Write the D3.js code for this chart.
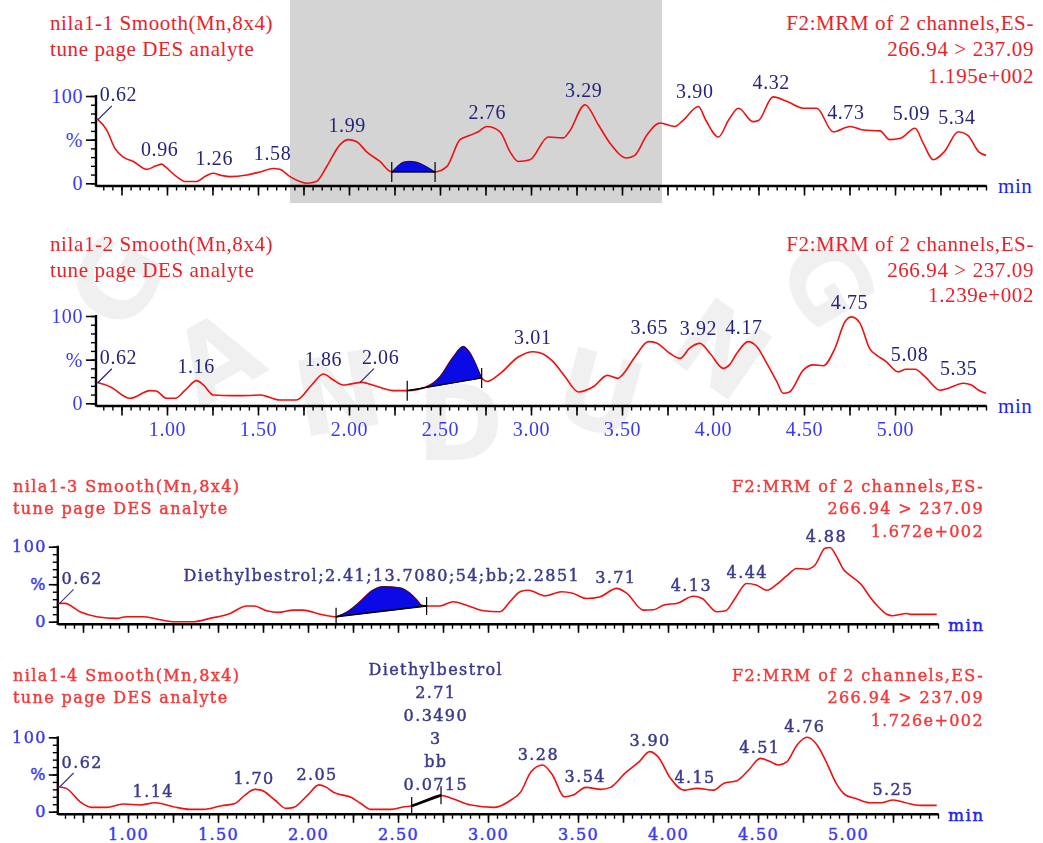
<!DOCTYPE html>
<html><head><meta charset="utf-8">
<style>
body { margin: 0; background: #fff; }
svg { display: block; }
</style></head><body>
<svg width="1043" height="843"></svg>
<script src="https://d3js.org/d3.v7.min.js"></script>
<script>

// ---- data (time in min, intensity in %) ----
var trace1 = [[0.614,74],[0.669,61],[0.714,40],[0.76,30],[0.815,25],[0.888,16],[0.94,20],[0.971,22],[0.99,19],[1.053,7.6],[1.099,2],[1.163,2],[1.21,8],[1.254,11.5],[1.30,9],[1.346,7.6],[1.438,9.5],[1.511,13],[1.584,17],[1.62,16],[1.676,7.6],[1.73,2],[1.768,0],[1.82,2],[1.877,19],[1.95,44],[1.996,50],[2.04,48],[2.097,36],[2.17,25],[2.235,13],[2.30,24],[2.335,25],[2.37,24],[2.473,13],[2.537,19],[2.61,50],[2.665,55],[2.71,59],[2.757,65],[2.83,59],[2.885,36],[2.93,25],[2.995,27],[3.095,53],[3.178,52],[3.21,59],[3.297,90],[3.37,67],[3.434,46],[3.526,29],[3.57,32],[3.636,55],[3.709,69],[3.79,65],[3.837,72.5],[3.92,88],[3.96,72.5],[4.03,53],[4.086,72.5],[4.14,86],[4.22,70.6],[4.25,72],[4.33,99],[4.41,93.5],[4.496,86],[4.57,86],[4.66,59],[4.753,65],[4.826,61],[4.918,60],[4.97,50],[5.03,51.5],[5.11,63],[5.155,46],[5.21,27],[5.27,36],[5.348,59],[5.40,55],[5.46,36],[5.50,32]];
var trace2 = [[0.614,24],[0.687,19],[0.797,5.7],[0.907,14.5],[0.94,14],[0.998,5.7],[1.045,5.7],[1.10,15],[1.163,26],[1.20,21],[1.254,9.5],[1.364,8.8],[1.45,9],[1.511,9.5],[1.62,3.8],[1.71,3.8],[1.795,21],[1.859,33.6],[1.914,26.7],[1.969,21],[2.005,22],[2.07,24],[2.115,21.8],[2.189,17],[2.244,14.5],[2.32,14.5],[2.427,19],[2.5,30.5],[2.573,53],[2.628,65],[2.66,59],[2.729,29],[2.76,25],[2.83,34],[2.93,53],[3.013,59],[3.06,57],[3.12,48],[3.187,30.5],[3.26,13],[3.342,19],[3.42,32],[3.477,28.6],[3.50,32],[3.571,53],[3.645,70.6],[3.69,69],[3.764,57],[3.82,51.5],[3.87,63],[3.929,68.7],[3.984,57],[4.057,40],[4.09,44],[4.13,57],[4.194,70.6],[4.24,65],[4.295,46],[4.35,25],[4.386,11.5],[4.42,13],[4.496,38],[4.55,44],[4.606,43],[4.67,63],[4.725,93.5],[4.762,99],[4.808,91.6],[4.86,63],[4.90,55],[4.95,48],[5.018,36],[5.06,39],[5.11,39],[5.165,30.5],[5.247,15],[5.29,17],[5.375,23],[5.42,21],[5.46,15],[5.50,11.5]];
var trace3 = [[0.613,24.4],[0.65,24.4],[0.733,13.3],[0.826,6.7],[0.937,4.4],[0.99,6.7],[1.085,6.7],[1.159,3.6],[1.25,0],[1.363,0],[1.455,4.4],[1.567,11],[1.659,21],[1.70,21],[1.77,14.7],[1.835,12.4],[1.918,15.5],[1.97,15.5],[2.067,10],[2.156,6.7],[2.233,15.5],[2.289,26.7],[2.354,41],[2.418,46.7],[2.511,45],[2.567,37.8],[2.604,29],[2.63,22],[2.659,21],[2.733,21],[2.807,26.7],[2.881,22],[2.974,14.7],[3.067,13.3],[3.122,26.7],[3.178,40],[3.224,42],[3.317,34.7],[3.409,40],[3.47,38],[3.548,31],[3.62,33],[3.715,44.4],[3.77,38],[3.863,15.5],[3.92,16],[3.974,22],[4.057,25],[4.14,34],[4.19,31],[4.27,13.3],[4.32,14.5],[4.372,31],[4.437,51],[4.49,49],[4.548,42],[4.60,49],[4.659,61],[4.715,71],[4.77,70],[4.817,75.6],[4.872,97.8],[4.9,99],[4.937,86.7],[4.974,70],[5.01,62],[5.076,49],[5.122,33],[5.168,20],[5.215,10],[5.25,8],[5.326,11],[5.35,9.8],[5.493,9.8]];
var trace4 = [[0.613,33.6],[0.66,31],[0.733,13.5],[0.798,5.8],[0.88,5.8],[0.974,10.3],[1.067,9],[1.15,12],[1.252,6.7],[1.344,3.1],[1.42,3.1],[1.52,8],[1.594,11],[1.65,22.4],[1.705,30],[1.74,29],[1.816,15.7],[1.878,4.5],[1.92,5.8],[1.998,22.4],[2.061,36],[2.10,33],[2.146,25.6],[2.239,19.3],[2.294,11],[2.35,3.1],[2.461,3.1],[2.535,6.7],[2.576,7.6],[2.65,15],[2.70,20],[2.739,22],[2.813,16.6],[2.906,9],[3.035,5.8],[3.128,15.7],[3.183,27],[3.239,53.8],[3.303,62.8],[3.359,49],[3.424,20],[3.47,22],[3.544,32.7],[3.628,30],[3.68,32.7],[3.76,51.6],[3.839,67],[3.898,80.7],[3.944,74],[4.014,44.8],[4.088,29],[4.16,31.4],[4.253,29],[4.309,38],[4.383,41.7],[4.448,56],[4.513,71.7],[4.57,67],[4.615,62.8],[4.66,67],[4.717,89.7],[4.773,100],[4.828,89.7],[4.883,65],[4.93,40],[4.986,22.4],[5.04,18],[5.122,12],[5.18,12],[5.252,15.7],[5.32,12],[5.4,8.5],[5.493,8.5]];

// integrated peak limits [start, end]
var peak1 = [2.235, 2.473];
var peak2 = [2.32, 2.729];
var peak3 = [2.156, 2.659];
var peak4 = [2.576, 2.739];

// peak labels
var labels1 = ["0.62","0.96","1.26","1.58","1.99","2.76","3.29","3.90","4.32","4.73","5.09","5.34"];
var labels2 = ["0.62","1.16","1.86","2.06","3.01","3.65","3.92","4.17","4.75","5.08","5.35"];
var labels3 = ["0.62","Diethylbestrol;2.41;13.7080;54;bb;2.2851","3.71","4.13","4.44","4.88"];
var labels4 = ["0.62","1.14","1.70","2.05","3.28","3.54","3.90","4.15","4.51","4.76","5.25"];
var leaders2 = ["0.62","2.06"];
var compound4 = ["Diethylbestrol","2.71","0.3490","3","bb","0.0715"];

// header texts
var titles1 = ["nila1-1 Smooth(Mn,8x4)", "tune page DES analyte"];
var titles2 = ["nila1-2 Smooth(Mn,8x4)", "tune page DES analyte"];
var titles3 = ["nila1-3 Smooth(Mn,8x4)", "tune page DES analyte"];
var titles4 = ["nila1-4 Smooth(Mn,8x4)", "tune page DES analyte"];
var channel = ["F2:MRM of 2 channels,ES-", "266.94 > 237.09"];
var maxInt = ["1.195e+002", "1.239e+002", "1.672e+002", "1.726e+002"];

// axis ticks
var timeDomain = [0.61, 5.5];
var xTickLabels = [1.00, 1.50, 2.00, 2.50, 3.00, 3.50, 4.00, 4.50, 5.00];
var xMinorTicks = d3.range(13, 111).map(function(i) { return i * 0.05; });
var xMajorTicks = d3.range(3, 22).map(function(i) { return i * 0.25; });
var yMinorTicks = d3.range(0, 101, 10);
var yMajorTicks = [0, 50, 100];

var svg = d3.select("svg");

// background: screen highlight + faint watermark
svg.append("rect").attr("x", 290).attr("y", 0).attr("width", 372).attr("height", 203).attr("fill", "#d4d4d4");
var wm = svg.append("g").attr("fill", "#000").attr("opacity", 0.06)
    .attr("font-family", "DejaVu Sans").attr("font-weight", "bold").attr("font-size", 105)
    .attr("text-anchor", "middle");
[["G",150,300,-60],["A",235,390,-30],["N",345,430,-10],["D",460,460,0],["U",590,430,15],["N",700,380,35],["G",795,300,60]]
  .forEach(function(w) {
    wm.append("text").attr("transform", "translate(" + w[1] + "," + w[2] + ") rotate(" + w[3] + ")").text(w[0]);
  });

function interp(tr, t) {
  var i = d3.bisector(function(d) { return d[0]; }).left(tr, t);
  if (i <= 0) return tr[0][1];
  if (i >= tr.length) return tr[tr.length - 1][1];
  var a = tr[i - 1], b = tr[i];
  return a[1] + (b[1] - a[1]) * (t - a[0]) / (b[0] - a[0]);
}
function peakTop(tr, t) {
  var m = interp(tr, t);
  tr.forEach(function(d) { if (Math.abs(d[0] - t) <= 0.04 && d[1] > m) m = d[1]; });
  return m;
}

function drawPanel(p) {
  var x = d3.scaleLinear().domain(timeDomain).range([p.x0, p.x1]),
      y = d3.scaleLinear().domain([0, 100]).range([p.yZero, p.yTop]);
  var g = svg.append("g").attr("font-family", p.font).style("letter-spacing", p.ls + "px");

  // headers
  p.titles.forEach(function(s, i) {
    g.append("text").attr("x", p.left).attr("y", p.hy[i]).attr("fill", p.red)
      .attr("stroke", p.red).attr("stroke-width", p.bold)
      .attr("font-size", p.hfs).text(s);
  });
  channel.concat([p.max]).forEach(function(s, i) {
    g.append("text").attr("x", p.right).attr("y", p.hy[i]).attr("fill", p.red)
      .attr("stroke", p.red).attr("stroke-width", p.bold)
      .attr("text-anchor", "end").attr("font-size", p.hfs).text(s);
  });

  // x axis
  var ax = g.append("g").attr("transform", "translate(0," + p.axisY + ")");
  ax.append("g")
      .call(d3.axisBottom(x).tickValues(xMinorTicks).tickSize(p.xMinor).tickSizeOuter(0).tickFormat(""))
      .call(function(s) { s.select(".domain").attr("stroke-width", 2.4); s.selectAll("line").attr("stroke-width", 1.4); });
  ax.append("g")
      .call(d3.axisBottom(x).tickValues(xMajorTicks).tickSize(p.xMajor).tickPadding(p.xPad)
        .tickFormat(function(d) {
          return p.tickLabels && xTickLabels.some(function(v) { return Math.abs(v - d) < 1e-6; }) ? d3.format(".2f")(d) : "";
        }))
      .call(function(s) {
        s.select(".domain").remove();
        s.selectAll("line").attr("stroke-width", 1.6);
        s.selectAll("text").attr("fill", p.blue).attr("font-size", p.tfs).attr("font-family", p.font)
          .attr("stroke", p.blue).attr("stroke-width", p.bold);
      });
  g.append("text").attr("x", p.x1 + p.minDx).attr("y", p.axisY + p.minDy).attr("fill", "#2222ee")
    .attr("stroke", "#2222ee").attr("stroke-width", p.bold)
    .attr("font-size", p.tfs + 1).text("min");

  // y axis
  var ay = g.append("g").attr("transform", "translate(" + p.x0 + ",0)");
  ay.append("g")
      .call(d3.axisLeft(y).tickValues(yMinorTicks).tickSize(p.yMinor).tickSizeOuter(0).tickFormat(""))
      .call(function(s) { s.select(".domain").remove(); s.selectAll("line").attr("stroke-width", 1.4); });
  ay.append("g")
      .call(d3.axisLeft(y).tickValues(yMajorTicks).tickSize(p.yMajor).tickPadding(p.yPad)
        .tickFormat(function(d) { return d === 50 ? "%" : d; }))
      .call(function(s) {
        s.select(".domain").remove();
        s.selectAll("line").attr("stroke-width", 1.6);
        s.selectAll("text").attr("fill", p.blue).attr("font-size", p.tfs).attr("font-family", p.font)
          .attr("stroke", p.blue).attr("stroke-width", p.bold);
      });
  ay.append("line").attr("x1", 0).attr("x2", 0).attr("y1", y(100) - 1).attr("y2", p.axisY + 1.2)
    .attr("stroke", "#000").attr("stroke-width", 2.4);

  // trace
  var line = d3.line().curve(d3.curveMonotoneX).x(function(d) { return x(d[0]); }).y(function(d) { return y(d[1]); });
  g.append("path").datum(p.trace).attr("d", line).attr("fill", "none")
    .attr("stroke", "#f01010").attr("stroke-width", 1.6).attr("stroke-linejoin", "round");

  // integrated peak
  var s0 = p.peak[0], s1 = p.peak[1];
  var pts = [[s0, interp(p.trace, s0)]]
    .concat(p.trace.filter(function(d) { return d[0] > s0 && d[0] < s1; }))
    .concat([[s1, interp(p.trace, s1)]]);
  g.append("path").attr("d", line(pts) + "Z").attr("fill", "#0a0ae6")
    .attr("stroke", "#101040").attr("stroke-width", 0.9);
  g.append("line").attr("x1", x(s0)).attr("y1", y(pts[0][1])).attr("x2", x(s1)).attr("y2", y(pts[pts.length - 1][1]))
    .attr("stroke", "#000").attr("stroke-width", p.baseW);
  [s0, s1].forEach(function(t) {
    var yy = y(interp(p.trace, t));
    g.append("line").attr("x1", x(t)).attr("x2", x(t)).attr("y1", yy - p.mk).attr("y2", yy + p.mk)
      .attr("stroke", "#000").attr("stroke-width", 1.2);
  });

  // labels
  p.labels.forEach(function(l) {
    var parts = l.split(";");
    var t = parts.length > 1 ? +parts[1] : +l;
    if (t === 0.62 || p.leaders.indexOf(l) >= 0) {
      var px = x(t), py = y(interp(p.trace, t));
      g.append("line").attr("x1", px).attr("y1", py).attr("x2", px + p.lead).attr("y2", py - p.lead)
        .attr("stroke", p.navy).attr("stroke-width", 1.2);
      g.append("text").attr("x", px + 2).attr("y", py - p.lead - 5).attr("fill", p.navy)
        .attr("stroke", p.navy).attr("stroke-width", p.bold)
        .attr("font-size", p.lfs).text(l);
    } else {
      g.append("text").attr("x", x(t)).attr("y", y(peakTop(p.trace, t)) - p.labOff)
        .attr("dy", "0.35em").attr("text-anchor", "middle").attr("fill", p.navy)
        .attr("stroke", p.navy).attr("stroke-width", p.bold)
        .attr("font-size", p.lfs).text(l);
    }
  });
  if (p.compound) {
    var tc = +p.compound[1], yc = y(peakTop(p.trace, tc)) - p.labOff;
    p.compound.slice().reverse().forEach(function(s, i) {
      g.append("text").attr("x", x(tc)).attr("y", yc - i * 23).attr("dy", "0.35em")
        .attr("text-anchor", "middle").attr("fill", p.navy)
        .attr("stroke", p.navy).attr("stroke-width", p.bold)
        .attr("font-size", p.lfs).text(s);
    });
  }
}

var big = { x0: 96, x1: 986, font: "Liberation Serif", ls: 0.6, hfs: 21, tfs: 20, lfs: 20, bold: 0,
  left: 50, right: 1034, red: "#e8222a", blue: "#3a3af0", navy: "#24247a",
  xMinor: 5, xMajor: 10, xPad: 6, yMinor: 5, yMajor: 10, yPad: 3, minDx: 12, minDy: 7,
  mk: 10, lead: 14, labOff: 15, baseW: 1.2 };
var small = { x0: 57.8, x1: 938, font: "DejaVu Serif", ls: 1.4, hfs: 16, tfs: 16, lfs: 16, bold: 0.45,
  left: 13, right: 984, red: "#f23a3a", blue: "#3a3af0", navy: "#3a3a8c",
  xMinor: 5, xMajor: 9, xPad: 6, yMinor: 5, yMajor: 9, yPad: 2, minDx: 10, minDy: 7,
  mk: 9, lead: 14, labOff: 11, baseW: 1.6 };

drawPanel(Object.assign({}, big, { yTop: 96, yZero: 183.3, axisY: 185.5, hy: [30, 56, 83],
  titles: titles1, max: maxInt[0], trace: trace1, peak: peak1, labels: labels1, leaders: [], tickLabels: false }));
drawPanel(Object.assign({}, big, { yTop: 316, yZero: 403.3, axisY: 405.5, hy: [251, 277, 302],
  titles: titles2, max: maxInt[1], trace: trace2, peak: peak2, labels: labels2, leaders: leaders2, tickLabels: true }));
drawPanel(Object.assign({}, small, { yTop: 546.7, yZero: 621.7, axisY: 623.8, hy: [492, 514, 537],
  titles: titles3, max: maxInt[2], trace: trace3, peak: peak3, labels: labels3, leaders: [], tickLabels: false }));
drawPanel(Object.assign({}, small, { yTop: 737.3, yZero: 811.7, axisY: 813.8, hy: [681, 703, 726],
  titles: titles4, max: maxInt[3], trace: trace4, peak: peak4, labels: labels4, leaders: [], tickLabels: true,
  compound: compound4, baseW: 2.6 }));

</script>
</body></html>
